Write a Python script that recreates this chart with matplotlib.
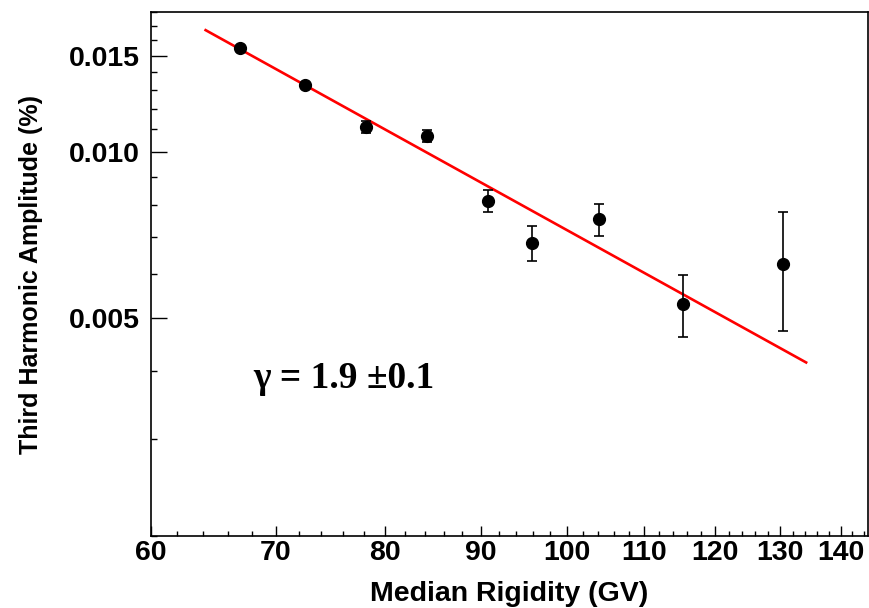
import matplotlib
matplotlib.use("Agg")
import numpy as np
import matplotlib.pyplot as plt
from matplotlib.ticker import FixedLocator, NullFormatter

# --- data ---
rigidity = [67.0, 72.5, 78.2, 84.3, 90.8, 95.9, 104.1, 115.3, 130.4]
amplitude = [0.01546, 0.01326, 0.01113, 0.01070, 0.00816, 0.00684, 0.00755, 0.00529, 0.00625]
amp_err = [0.0001, 0.0001, 0.00029, 0.00028, 0.00037, 0.00049, 0.00051, 0.00069, 0.00153]

# power-law fit: A(R) = fit_norm * (R / 100) ** (-fit_gamma)
fit_gamma = 1.89
fit_norm = 0.00722
fit_range = (64.2, 134.2)

x_ticks = [60, 70, 80, 90, 100, 110, 120, 130, 140]
y_ticks = [0.005, 0.010, 0.015]
y_tick_labels = ["0.005", "0.010", "0.015"]

# --- figure ---
fig = plt.figure(figsize=(8.69, 6.08), dpi=100)
ax = fig.add_axes([0.1732, 0.1184, 0.8257, 0.8618])

ax.set_xscale("log")
ax.set_yscale("log")
ax.set_xlim(60, 144.8)
ax.set_ylim(0.002, 0.018)

fx = np.linspace(fit_range[0], fit_range[1], 100)
ax.plot(fx, fit_norm * (fx / 100.0) ** (-fit_gamma), color="red", lw=1.9, zorder=2)

ax.errorbar(rigidity, amplitude, yerr=amp_err, fmt="o", color="black",
            ms=8.5, elinewidth=1.2, capsize=3.5, capthick=1.2, zorder=3)

# ticks
ax.xaxis.set_major_locator(FixedLocator(x_ticks))
ax.xaxis.set_minor_locator(FixedLocator(np.arange(62, 145, 2)))
ax.xaxis.set_minor_formatter(NullFormatter())
ax.set_xticklabels([str(t) for t in x_ticks])

ax.yaxis.set_major_locator(FixedLocator(y_ticks))
ax.yaxis.set_minor_locator(FixedLocator(np.arange(0.002, 0.0181, 0.001)))
ax.yaxis.set_minor_formatter(NullFormatter())
ax.set_yticklabels(y_tick_labels)

for lab in ax.get_xticklabels() + ax.get_yticklabels():
    lab.set_fontfamily("Liberation Sans")
    lab.set_fontweight("bold")
    lab.set_fontsize(20.5)

ax.tick_params(axis="x", which="major", direction="in", length=7.2, width=1, pad=3)
ax.tick_params(axis="x", which="minor", direction="in", length=3.6, width=1)
ax.tick_params(axis="y", which="major", direction="in", length=11.5, width=1, pad=8)
ax.tick_params(axis="y", which="minor", direction="in", length=4.5, width=1)

for sp in ax.spines.values():
    sp.set_linewidth(1.2)

ax.set_xlabel("Median Rigidity (GV)", family="Liberation Sans", weight="bold",
              fontsize=20.5, labelpad=11)
ax.set_ylabel("Third Harmonic Amplitude (%)", family="Liberation Sans", weight="bold",
              fontsize=18, labelpad=18)

ax.text(0.143, 0.282, "\u03b3 = 1.9 \u00b10.1", transform=ax.transAxes,
        family="Liberation Serif", weight="bold", fontsize=27, va="baseline")

fig.savefig("out.png", dpi=100)
